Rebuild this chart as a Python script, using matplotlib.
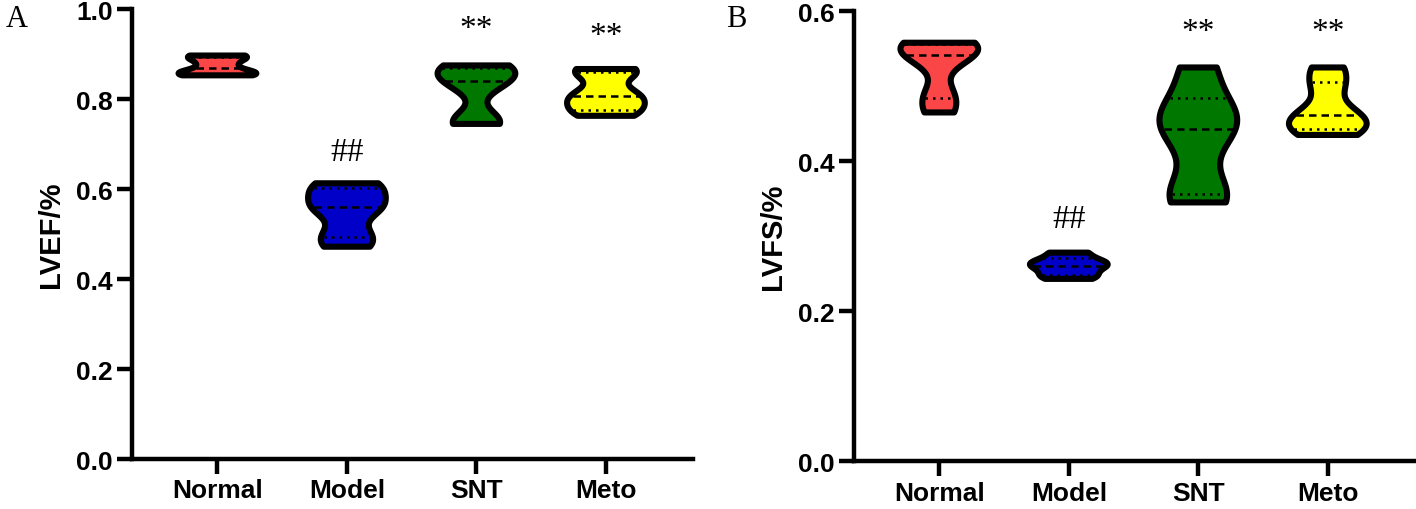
import numpy as np
import matplotlib.pyplot as plt

# groups and colours
groups = ["Normal", "Model", "SNT", "Meto"]
colors = ["#FA4646", "#0000C8", "#007800", "#FFFF00"]

# LVEF values (panel A)
lvef_normal = [0.853, 0.856, 0.862, 0.878, 0.893, 0.897]
lvef_model = [0.472, 0.500, 0.555, 0.565, 0.600, 0.613]
lvef_snt = [0.745, 0.752, 0.830, 0.850, 0.866, 0.875]
lvef_meto = [0.763, 0.780, 0.800, 0.815, 0.858, 0.867]

# LVFS values (panel B)
lvfs_normal = [0.465, 0.490, 0.535, 0.548, 0.555, 0.558]
lvfs_model = [0.243, 0.250, 0.258, 0.263, 0.268, 0.278]
lvfs_snt = [0.345, 0.360, 0.430, 0.455, 0.470, 0.525]
lvfs_meto = [0.435, 0.445, 0.455, 0.467, 0.500, 0.525]

# significance marks
marks = ["", "##", "**", "**"]
marks_y_a = [None, 0.683, 0.957, 0.942]
marks_y_b = [None, 0.323, 0.572, 0.572]

plt.rcParams['font.family'] = ['Liberation Sans', 'DejaVu Sans']


def kde(vals, grid, bw=0.45):
    vals = np.asarray(vals)
    h = bw * np.std(vals, ddof=1)
    d = np.exp(-0.5 * ((grid[:, None] - vals[None, :]) / h) ** 2).sum(axis=1)
    return d


def violin(ax, pos, vals, color, half=0.30):
    vals = np.asarray(vals)
    grid = np.linspace(vals.min(), vals.max(), 200)
    d = kde(vals, grid)
    w = d / d.max() * half
    xs = np.concatenate([pos - w, (pos + w)[::-1]])
    ys = np.concatenate([grid, grid[::-1]])
    ax.fill(xs, ys, facecolor=color, edgecolor="black", linewidth=4.4,
            joinstyle="round", zorder=2)
    q1, med, q3 = np.percentile(vals, [25, 50, 75], method="weibull")
    for v, ls in [(q1, (0, (1, 2))), (med, (0, (3, 2))), (q3, (0, (1, 2)))]:
        wi = np.interp(v, grid, w) - 0.02
        ax.plot([pos - wi, pos + wi], [v, v], color="black", lw=1.8,
                linestyle=ls, zorder=3)


def style(ax, ylabel, ymax, step):
    ax.set_xlim(-0.66, 3.67)
    ax.set_ylim(0, ymax)
    ax.set_yticks(np.arange(0, ymax + 1e-9, step))
    ax.set_yticklabels([f"{t:.1f}" for t in np.arange(0, ymax + 1e-9, step)])
    ax.set_xticks(range(len(groups)))
    ax.set_xticklabels(groups)
    for s in ["top", "right"]:
        ax.spines[s].set_visible(False)
    for s in ["left", "bottom"]:
        ax.spines[s].set_linewidth(3.2)
    ax.tick_params(width=3.2, length=11, labelsize=19, pad=3)
    for lab in ax.get_xticklabels() + ax.get_yticklabels():
        lab.set_fontweight("bold")
    ax.set_ylabel(ylabel, fontsize=21, fontweight="bold", labelpad=8)


fig = plt.figure(figsize=(14.16, 5.10), dpi=100)
ax1 = fig.add_axes([0.0932, 0.098, 0.396, 0.882])
ax2 = fig.add_axes([0.603, 0.094, 0.396, 0.882])

data_a = [lvef_normal, lvef_model, lvef_snt, lvef_meto]
data_b = [lvfs_normal, lvfs_model, lvfs_snt, lvfs_meto]

for i in range(4):
    violin(ax1, i, data_a[i], colors[i])
    violin(ax2, i, data_b[i], colors[i])
    if marks[i]:
        ax1.text(i, marks_y_a[i], marks[i], ha="center", va="center",
                 fontsize=24, family="Liberation Serif")
        ax2.text(i, marks_y_b[i], marks[i], ha="center", va="center",
                 fontsize=24, family="Liberation Serif")

style(ax1, "LVEF/%", 1.0, 0.2)
style(ax2, "LVFS/%", 0.6, 0.2)

fig.text(0.004, 0.962, "A", fontsize=22, family="Liberation Serif", va="center")
fig.text(0.513, 0.962, "B", fontsize=22, family="Liberation Serif", va="center")

fig.savefig("out.png", dpi=100)
